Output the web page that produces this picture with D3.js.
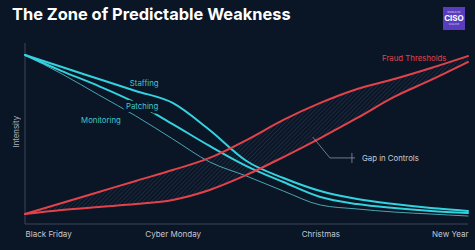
<!DOCTYPE html>
<html>
<head>
<meta charset="utf-8">
<script src="https://cdn.jsdelivr.net/npm/d3@7"></script>
<style>
  html, body { margin: 0; padding: 0; background: #0a1526; }
  svg { display: block; font-family: Inter, "Noto Sans", sans-serif; }
</style>
</head>
<body>
<div id="chart"></div>
<script>
// x position on the timeline: 0 = Black Friday ... 3 = New Year
const steps = [0, 0.25, 0.5, 0.75, 1, 1.25, 1.5, 1.75, 2, 2.25, 2.5, 2.75, 3];
const tickLabels = ["Black Friday", "Cyber Monday", "Christmas", "New Year"];

const staffing   = [93.4, 86.7, 80.1, 73.5, 66.9, 51.9, 34.8, 25.4, 18.2, 13.8, 11.0, 8.8, 7.2];
const patching   = [93.4, 84.5, 76.2, 66.9, 55.2, 43.1, 32.0, 23.2, 14.9, 11.0, 8.8, 7.2, 6.1];
const monitoring = [93.4, 82.9, 71.3, 59.7, 47.0, 34.3, 26.5, 18.2, 10.5, 8.3, 6.6, 5.5, 4.4];
const fraudHigh  = [5.5, 11.6, 17.7, 23.8, 29.8, 36.5, 46.4, 57.5, 66.9, 74.6, 80.1, 86.2, 92.8];
const fraudLow   = [5.5, 7.7, 9.4, 11.0, 13.3, 18.8, 27.1, 37.0, 47.5, 58.6, 70.2, 79.6, 89.5];

const width = 475;
const height = 250;
const margin = {"top": 43, "right": 7, "bottom": 26, "left": 25};

const svg = d3.select("#chart")
  .append("svg")
  .attr("width", width)
  .attr("height", height);

svg.append("rect")
  .attr("width", width)
  .attr("height", height)
  .attr("fill", "#0a1526");

// hatch for the gap between the fraud lines
const defs = svg.append("defs");
defs.append("pattern")
  .attr("id", "hatch")
  .attr("patternUnits", "userSpaceOnUse")
  .attr("width", 3)
  .attr("height", 3)
  .attr("patternTransform", "rotate(45)")
  .append("line")
  .attr("x1", 0).attr("y1", 0)
  .attr("x2", 0).attr("y2", 3)
  .attr("stroke", "rgba(150,170,200,0.38)")
  .attr("stroke-width", 0.7);

const x = d3.scaleLinear().domain([0, 3]).range([margin.left, width - margin.right]);
const y = d3.scaleLinear().domain([0, 100]).range([height - margin.bottom, margin.top]);

// title
svg.append("text")
  .attr("x", 12)
  .attr("y", 20)
  .attr("fill", "#ffffff")
  .attr("font-size", 16.4)
  .attr("font-weight", 700)
  .text("The Zone of Predictable Weakness");

// logo
const logo = svg.append("g").attr("transform", "translate(443,7)");
logo.append("rect").attr("width", 22).attr("height", 23).attr("fill", "#5a3cc0");
logo.append("text").attr("x", 11).attr("y", 6).attr("text-anchor", "middle")
  .attr("font-size", 2.5).attr("fill", "#ddd").text("WORLD OF");
logo.append("text").attr("x", 11).attr("y", 14).attr("text-anchor", "middle")
  .attr("font-size", 8).attr("font-weight", 700).attr("fill", "#fff").text("CISO");
logo.append("text").attr("x", 11).attr("y", 18).attr("text-anchor", "middle")
  .attr("font-size", 2).attr("fill", "#ccc").text("MAGAZINE");

// axes
svg.append("line")
  .attr("x1", x(0)).attr("x2", x(0))
  .attr("y1", y(100)).attr("y2", y(0))
  .attr("stroke", "#3a4659").attr("stroke-width", 1);
svg.append("line")
  .attr("x1", x(0)).attr("x2", x(3))
  .attr("y1", y(0)).attr("y2", y(0))
  .attr("stroke", "#3a4659").attr("stroke-width", 1);

const xAxis = d3.axisBottom(x)
  .tickValues([0, 1, 2, 3])
  .tickSize(0)
  .tickPadding(7)
  .tickFormat((d, i) => tickLabels[i]);

const axisG = svg.append("g")
  .attr("transform", "translate(0," + y(0) + ")")
  .call(xAxis);
axisG.select(".domain").remove();
axisG.selectAll("text")
  .attr("fill", "#c4c9d2")
  .attr("font-size", 8)
  .attr("font-family", "Inter, 'Noto Sans', sans-serif")
  .attr("text-anchor", (d, i) => i === 0 ? "start" : (i === 3 ? "end" : "middle"));

svg.append("text")
  .attr("transform", "translate(16," + y(51) + ") rotate(-90)")
  .attr("text-anchor", "middle")
  .attr("dy", "0.35em")
  .attr("fill", "#a9b0bc")
  .attr("font-size", 7.8)
  .text("Intensity");

// gap area
const area = d3.area()
  .x((d, i) => x(steps[i]))
  .y0((d, i) => y(fraudLow[i]))
  .y1((d) => y(d))
  .curve(d3.curveMonotoneX);

svg.append("path")
  .datum(fraudHigh)
  .attr("d", area)
  .attr("fill", "url(#hatch)");

const line = d3.line()
  .x((d, i) => x(steps[i]))
  .y((d) => y(d))
  .curve(d3.curveMonotoneX);

const series = [
  {"values": monitoring, "color": "#4aa6b2", "width": 1},
  {"values": patching, "color": "#34d2de", "width": 2},
  {"values": staffing, "color": "#34d2de", "width": 2},
  {"values": fraudLow, "color": "#e2434b", "width": 2},
  {"values": fraudHigh, "color": "#e2434b", "width": 2}
];

svg.selectAll(".series")
  .data(series)
  .enter()
  .append("path")
  .attr("class", "series")
  .attr("d", (s) => line(s.values))
  .attr("fill", "none")
  .attr("stroke", (s) => s.color)
  .attr("stroke-width", (s) => s.width)
  .attr("stroke-linecap", "round");

// series labels
const labels = [
  {"text": "Staffing", "x": 0.71, "y": 78.0, "color": "#3fc7d4", "halo": false},
  {"text": "Patching", "x": 0.684, "y": 65.2, "color": "#3fc7d4", "halo": true},
  {"text": "Monitoring", "x": 0.38, "y": 57.5, "color": "#3fc7d4", "halo": false},
  {"text": "Fraud Thresholds", "x": 2.418, "y": 91.7, "color": "#e2434b", "halo": false}
];

svg.selectAll(".label")
  .data(labels)
  .enter()
  .append("text")
  .attr("class", "label")
  .attr("x", (d) => x(d.x))
  .attr("y", (d) => y(d.y))
  .attr("dy", "0.35em")
  .attr("fill", (d) => d.color)
  .attr("font-size", 7.8)
  .attr("stroke", (d) => d.halo ? "#0a1526" : "none")
  .attr("stroke-width", 6)
  .attr("paint-order", "stroke")
  .text((d) => d.text);

// gap annotation
const gap = svg.append("g");
gap.append("path")
  .attr("d", "M" + x(1.949) + "," + y(48) + " L" + x(2.065) + "," + y(36.5) + " L" + x(2.235) + "," + y(36.5))
  .attr("fill", "none")
  .attr("stroke", "#8a93a3")
  .attr("stroke-width", 0.8);
gap.append("line")
  .attr("x1", x(2.214)).attr("x2", x(2.214))
  .attr("y1", y(36.5) - 5).attr("y2", y(36.5) + 5)
  .attr("stroke", "#8a93a3")
  .attr("stroke-width", 0.8);
gap.append("text")
  .attr("x", x(2.282))
  .attr("y", y(36.5))
  .attr("dy", "0.35em")
  .attr("fill", "#c8ccd5")
  .attr("font-size", 7.8)
  .text("Gap in Controls");
</script>
</body>
</html>
